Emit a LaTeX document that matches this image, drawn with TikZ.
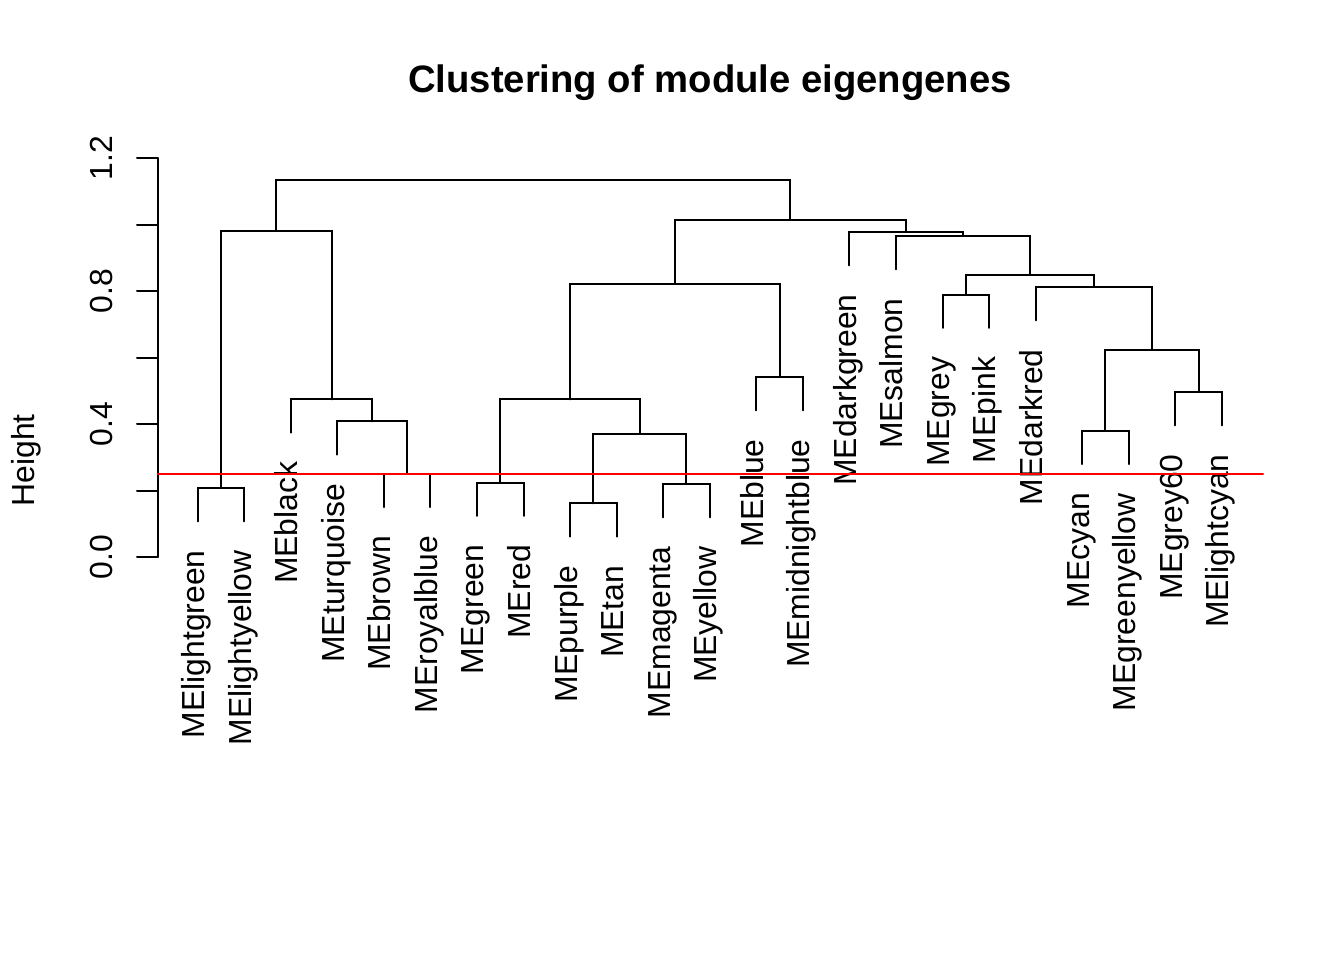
\documentclass[tikz,border=0pt]{standalone}
\usepackage{fontspec}
\setmainfont{Liberation Sans}
\usetikzlibrary{calc}

\begin{document}
\begin{tikzpicture}[x=0.375bp,y=124.6875bp,line width=0.75bp,cap=round]
\tikzstyle{branch} = [black, line join=miter]
\tikzstyle{leaflabel} = [rotate=90, anchor=base east, inner sep=0, font=\fontsize{12}{14}\selectfont]
\tikzstyle{ticklabel} = [rotate=90, anchor=base, inner sep=0, font=\fontsize{12}{14}\selectfont]
\tikzstyle{cutline} = [red, line width=0.75bp]

\useasboundingbox (0,-1.2120) rectangle (1344,1.6752);

% title
\node (title) [anchor=base, inner sep=0, font=\bfseries\fontsize{14.4}{17}\selectfont] at (710,1.3976) {Clustering of module eigengenes};

% axis
\coordinate (ax0) at (157.5,0);
\coordinate (ax1) at (157.5,1.2);
\draw (ax0) -- (ax1);
\foreach \k in {0,...,6}
{
\draw ($(ax0)+(0,0.2*\k)$) -- +(-20.5,0);
}
\foreach \k/\t in {0/0.0,1/0.4,2/0.8,3/1.2}
{
\node (tick\k) [ticklabel] at (112,0.4*\k) {\t};
}
\node (ylab) [ticklabel] at (34,0.291) {Height};

% leaves
\foreach \i/\n/\h in {1/lightgreen/0.2075, 2/lightyellow/0.2075, 3/black/0.474, 4/turquoise/0.408,
  5/brown/0.250, 6/royalblue/0.250, 7/green/0.224, 8/red/0.224, 9/purple/0.161, 10/tan/0.161,
  11/magenta/0.219, 12/yellow/0.219, 13/blue/0.541, 14/midnightblue/0.541, 15/darkgreen/0.977,
  16/salmon/0.965, 17/grey/0.789, 18/pink/0.789, 19/darkred/0.812, 20/cyan/0.379,
  21/greenyellow/0.379, 22/grey60/0.496, 23/lightcyan/0.496}
{
\coordinate (l\i) at ({197.7+46.55*(\i-1)},{\h-0.1});
\node (n\i) [xshift=2.6bp, yshift=-10.5bp, leaflabel] at (l\i) {ME\n};
}

% merges
\foreach \m/\a/\b/\h in {ma/l1/l2/0.2075, mb/l5/l6/0.250, mc/l4/mb/0.408, md/l3/mc/0.474,
  me/ma/md/0.980, mf/l7/l8/0.224, mg/l9/l10/0.161, mh/l11/l12/0.219, mi/mg/mh/0.371,
  mj/mf/mi/0.474, mk/l13/l14/0.541, ml/mj/mk/0.822, mm/l17/l18/0.789, mn/l20/l21/0.379,
  mo/l22/l23/0.496, mp/mn/mo/0.622, mq/l19/mp/0.812, mr/mm/mq/0.848, ms/l16/mr/0.965,
  mt/l15/ms/0.977, mu/ml/mt/1.015, mv/me/mu/1.135}
{
\coordinate (mid) at ($(\a)!0.5!(\b)$);
\coordinate (lev) at (0,\h);
\coordinate (\m) at (mid |- lev);
\draw [branch] (\a) |- (\m) -| (\b);
}

% cut height
\coordinate (cut0) at (157.5,0.25);
\coordinate (cut1) at (1263,0.25);
\draw [cutline] (cut0) -- (cut1);

\end{tikzpicture}
\end{document}
